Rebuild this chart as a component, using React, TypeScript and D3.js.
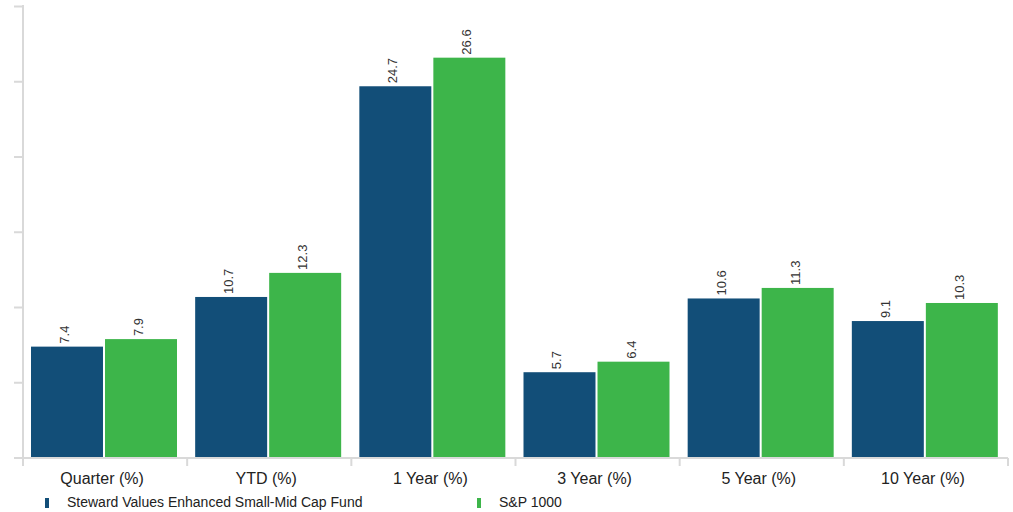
import { useEffect, useRef } from 'react';
import * as d3 from 'd3';

const categories = ['Quarter (%)', 'YTD (%)', '1 Year (%)', '3 Year (%)', '5 Year (%)', '10 Year (%)'];
const seriesNames = ['Steward Values Enhanced Small-Mid Cap Fund', 'S&P 1000'];
const fundValues = [7.4, 10.7, 24.7, 5.7, 10.6, 9.1];
const indexValues = [7.9, 12.3, 26.6, 6.4, 11.3, 10.3];
const yTicks = [0, 5, 10, 15, 20, 25, 30];
const colors = ['#124e78', '#3db54a'];

export default function App() {
  const svgRef = useRef<SVGSVGElement>(null);

  useEffect(() => {
    if (!svgRef.current) return;
    const svg = d3.select(svgRef.current);
    svg.selectAll('*').remove();

    const left = 23;
    const right = 1008;
    const top = 6.5;
    const bottom = 458;
    const axisColor = '#d9d9d9';
    const font = 'Arial, "Liberation Sans", sans-serif';

    const x0 = d3.scaleBand<string>().domain(categories).range([left, right]);
    const x1 = d3.scaleBand<string>()
      .domain(seriesNames)
      .range([8, 154])
      .paddingInner(0.0274);
    const y = d3.scaleLinear().domain([0, 30]).range([bottom, top]);

    const rows = categories.map((c, i) => ({ cat: c, vals: [fundValues[i], indexValues[i]] }));

    // bars
    const groups = svg.append('g')
      .selectAll('g')
      .data(rows)
      .join('g')
      .attr('transform', d => `translate(${x0(d.cat)},0)`);

    groups.selectAll('rect')
      .data(d => d.vals.map((v, j) => ({ v, j })))
      .join('rect')
      .attr('x', d => x1(seriesNames[d.j]) || 0)
      .attr('y', d => y(d.v))
      .attr('width', x1.bandwidth())
      .attr('height', d => bottom - y(d.v))
      .attr('fill', d => colors[d.j]);

    groups.selectAll('text')
      .data(d => d.vals.map((v, j) => ({ v, j })))
      .join('text')
      .attr('transform', d => {
        const cx = (x1(seriesNames[d.j]) || 0) + x1.bandwidth() / 2 + 2;
        return `translate(${cx},${y(d.v) - 3}) rotate(-90)`;
      })
      .attr('font-family', font)
      .attr('font-size', 13)
      .attr('fill', '#333')
      .text(d => d.v.toFixed(1));

    // y axis
    svg.append('line')
      .attr('x1', left).attr('x2', left)
      .attr('y1', 5).attr('y2', bottom)
      .attr('stroke', axisColor).attr('stroke-width', 2);
    svg.append('g')
      .selectAll('line')
      .data(yTicks)
      .join('line')
      .attr('x1', 14).attr('x2', left)
      .attr('y1', d => y(d)).attr('y2', d => y(d))
      .attr('stroke', axisColor).attr('stroke-width', 2);

    // x axis
    svg.append('line')
      .attr('x1', 14).attr('x2', right)
      .attr('y1', bottom).attr('y2', bottom)
      .attr('stroke', axisColor).attr('stroke-width', 2);
    const bounds = categories.map(c => x0(c) || 0).concat([right]);
    svg.append('g')
      .selectAll('line')
      .data(bounds)
      .join('line')
      .attr('x1', d => d).attr('x2', d => d)
      .attr('y1', bottom).attr('y2', bottom + 8)
      .attr('stroke', axisColor).attr('stroke-width', 2);

    svg.append('g')
      .selectAll('text')
      .data(categories)
      .join('text')
      .attr('x', d => (x0(d) || 0) + x0.bandwidth() / 2 - 3)
      .attr('y', 484)
      .attr('text-anchor', 'middle')
      .attr('font-family', font)
      .attr('font-size', 16)
      .attr('fill', '#222')
      .text(d => d);

    // legend
    const legendX = [45, 477];
    const legend = svg.append('g')
      .selectAll('g')
      .data(seriesNames)
      .join('g')
      .attr('transform', (d, i) => `translate(${legendX[i]},0)`);
    legend.append('rect')
      .attr('x', 0).attr('y', 498)
      .attr('width', 4).attr('height', 10)
      .attr('fill', (d, i) => colors[i]);
    legend.append('text')
      .attr('x', 22).attr('y', 507)
      .attr('font-family', font)
      .attr('font-size', 14)
      .attr('fill', '#222')
      .text(d => d);
  }, []);

  return (
    <svg
      ref={svgRef}
      width={1013}
      height={512}
      style={{ position: 'absolute', left: 0, top: 0, background: '#fff' }}
    />
  );
}
